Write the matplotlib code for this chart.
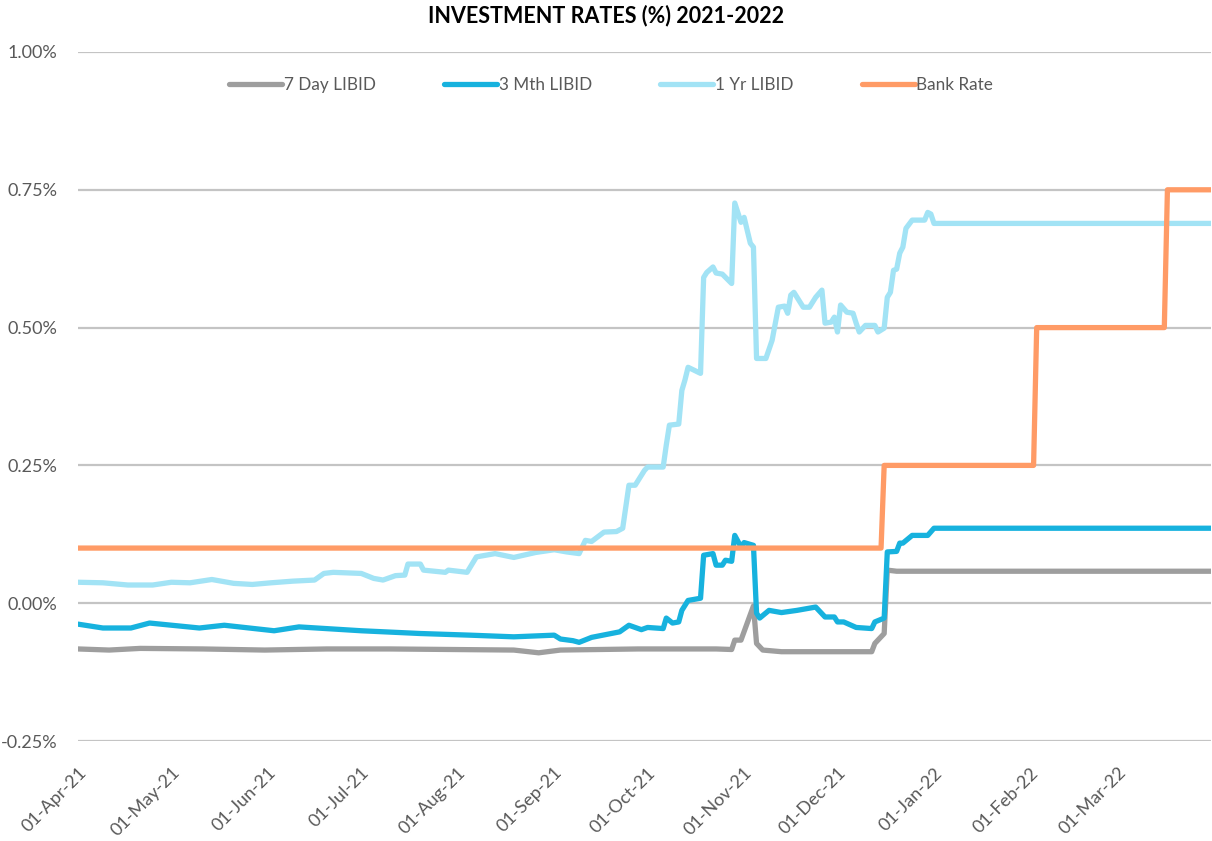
"""
Investment rates 2021-2022: LIBID curves vs Bank Rate.
"""

import numpy as np
import pandas as pd
import matplotlib
matplotlib.use("Agg")
import matplotlib.pyplot as plt
import matplotlib.dates as mdates
from matplotlib.ticker import FuncFormatter

START = pd.Timestamp("2021-04-01")

# ================================================================
# DATA  (day offset from 01-Apr-21, rate in %)
# ================================================================

yr1_days = [0, 8, 16, 24, 30, 36, 43, 50, 56, 62, 69, 76, 79, 82, 91, 95, 98,
            102, 105, 106, 110, 111, 118, 119, 125, 128, 134, 140, 147, 153,
            157, 161, 163, 165, 169, 173, 175, 177, 179, 180, 182, 183, 188,
            189, 190, 193, 194, 195, 196, 200, 201, 202, 204, 205, 207, 210,
            211, 213, 214, 216, 217, 218, 221, 223, 225, 227, 228, 229, 230,
            233, 235, 237, 239, 240, 242, 243, 244, 245, 247, 249, 250, 251,
            253, 256, 257, 259, 260, 261, 262, 263, 264, 265, 266, 268, 272,
            273, 274, 275, 364]
yr1_vals = [0.038, 0.037, 0.033, 0.033, 0.038, 0.037, 0.043, 0.036, 0.034,
            0.037, 0.040, 0.042, 0.054, 0.056, 0.054, 0.045, 0.042, 0.050,
            0.051, 0.071, 0.071, 0.060, 0.056, 0.060, 0.056, 0.084, 0.090,
            0.083, 0.092, 0.097, 0.093, 0.090, 0.114, 0.112, 0.129, 0.130,
            0.136, 0.214, 0.214, 0.223, 0.241, 0.247, 0.247, 0.287, 0.323,
            0.325, 0.386, 0.405, 0.428, 0.417, 0.591, 0.600, 0.610, 0.599,
            0.597, 0.580, 0.726, 0.691, 0.700, 0.653, 0.646, 0.444, 0.444,
            0.477, 0.537, 0.539, 0.526, 0.559, 0.564, 0.537, 0.537, 0.555,
            0.568, 0.508, 0.510, 0.519, 0.492, 0.541, 0.528, 0.526, 0.508,
            0.492, 0.504, 0.504, 0.492, 0.499, 0.555, 0.564, 0.604, 0.606,
            0.635, 0.646, 0.680, 0.695, 0.695, 0.709, 0.706, 0.689, 0.689]

mth3_days = [0, 8, 17, 23, 39, 47, 63, 71, 91, 110, 126, 140, 153, 155, 159,
             161, 165, 174, 177, 181, 183, 188, 189, 191, 193, 194, 196, 200,
             201, 204, 205, 207, 208, 210, 211, 213, 214, 217, 218, 219, 222,
             226, 231, 237, 240, 243, 244, 246, 250, 255, 256, 259, 260, 263,
             264, 265, 268, 273, 275, 364]
mth3_vals = [-0.038, -0.045, -0.045, -0.036, -0.045, -0.040, -0.050, -0.043,
             -0.050, -0.055, -0.058, -0.061, -0.058, -0.065, -0.068, -0.071,
             -0.062, -0.052, -0.040, -0.048, -0.044, -0.046, -0.027, -0.036,
             -0.034, -0.013, 0.005, 0.009, 0.087, 0.090, 0.069, 0.069, 0.078,
             0.076, 0.123, 0.102, 0.110, 0.105, -0.018, -0.027, -0.013,
             -0.017, -0.013, -0.007, -0.025, -0.025, -0.034, -0.034, -0.044,
             -0.046, -0.034, -0.027, 0.093, 0.094, 0.109, 0.109, 0.123,
             0.123, 0.136, 0.136]

day7_days = [0, 10, 20, 40, 60, 80, 100, 120, 140, 148, 155, 180, 205, 210,
             211, 213, 217, 218, 220, 226, 255, 256, 259, 260, 263, 364]
day7_vals = [-0.083, -0.085, -0.082, -0.083, -0.085, -0.083, -0.083, -0.084,
             -0.085, -0.090, -0.085, -0.083, -0.083, -0.084, -0.067, -0.067,
             -0.005, -0.073, -0.085, -0.088, -0.088, -0.073, -0.055, 0.060,
             0.058, 0.058]

bank_days = [0, 258, 259, 307, 308, 349, 350, 364]
bank_vals = [0.10, 0.10, 0.25, 0.25, 0.50, 0.50, 0.75, 0.75]

SERIES = [
    ("7 Day LIBID", day7_days, day7_vals, "#9e9e9e"),
    ("3 Mth LIBID", mth3_days, mth3_vals, "#17b2de"),
    ("1 Yr LIBID", yr1_days, yr1_vals, "#a2e3f5"),
    ("Bank Rate", bank_days, bank_vals, "#ff9b66"),
]

month_ticks = pd.date_range("2021-04-01", "2022-03-01", freq="MS")


def to_dates(days):
    return START + pd.to_timedelta(np.array(days), unit="D")


# ================================================================
# PLOT
# ================================================================

def main():
    plt.rcParams["font.family"] = ["Lato", "DejaVu Sans"]
    fig = plt.figure(figsize=(12.12, 8.41), dpi=100)
    ax = fig.add_axes([78 / 1212, 100 / 841, 1133 / 1212, 689 / 841])

    for label, days, vals, color in SERIES:
        ax.plot(to_dates(days), vals, color=color, linewidth=3.8,
                solid_joinstyle="round", solid_capstyle="round", label=label)

    ax.set_ylim(-0.25, 1.0)
    ax.set_yticks([-0.25, 0.0, 0.25, 0.5, 0.75, 1.0])
    ax.yaxis.set_major_formatter(FuncFormatter(lambda v, _: f"{v:.2f}%"))
    ax.set_xlim(START, pd.Timestamp("2022-03-31"))
    ax.set_xticks(month_ticks)
    ax.xaxis.set_major_formatter(mdates.DateFormatter("%d-%b-%y"))

    ax.grid(axis="y", color="#c4c4c4", linewidth=1.6)
    ax.set_axisbelow(True)
    for s in ax.spines.values():
        s.set_visible(False)
    ax.tick_params(length=0, labelsize=13, colors="#595959")
    ax.tick_params(axis="y", pad=15)
    ax.tick_params(axis="x", pad=17)
    for t in ax.get_xticklabels():
        t.set_rotation(45)
        t.set_ha("right")
        t.set_rotation_mode("anchor")

    fig.text(0.5, 1 - 16 / 841, "INVESTMENT RATES (%) 2021-2022",
             ha="center", va="center", fontsize=15.5, fontweight="bold",
             color="#000000")

    leg = fig.legend(loc="center", bbox_to_anchor=(611 / 1212, 1 - 85 / 841),
                     ncol=4, frameon=False, fontsize=12.3, handlelength=3.1,
                     handletextpad=0.1, columnspacing=4.0)
    for t in leg.get_texts():
        t.set_color("#595959")

    fig.savefig("out.png", dpi=100)
    plt.close(fig)


if __name__ == "__main__":
    main()
